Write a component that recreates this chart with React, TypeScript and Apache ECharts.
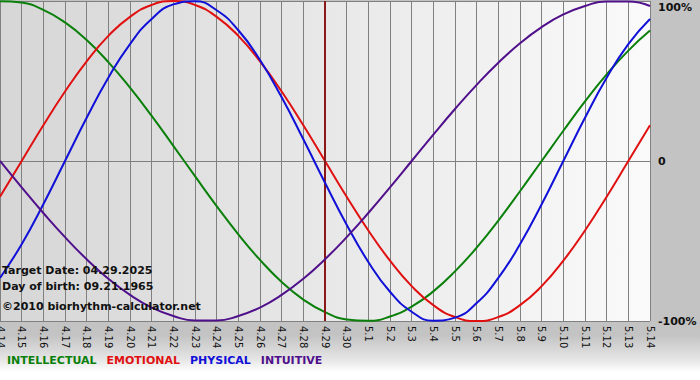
import React, { useEffect, useRef } from "react";
import * as echarts from "echarts";

const days = [
  "4.14", "4.15", "4.16", "4.17", "4.18", "4.19", "4.20", "4.21", "4.22", "4.23",
  "4.24", "4.25", "4.26", "4.27", "4.28", "4.29", "4.30", "5.1", "5.2", "5.3",
  "5.4", "5.5", "5.6", "5.7", "5.8", "5.9", "5.10", "5.11", "5.12", "5.13", "5.14",
];

const intellectual = [
  99.9, 99.0, 94.5, 86.6, 75.6, 61.8, 45.8, 28.2, 9.5, -9.5,
  -28.2, -45.8, -61.8, -75.6, -86.6, -94.5, -99.0, -99.9, -97.2, -91.0,
  -81.5, -69.0, -54.1, -37.2, -18.9, 0, 18.9, 37.2, 54.1, 69.0, 81.5,
];
const emotional = [
  -22.3, 0, 22.3, 43.4, 62.3, 78.2, 90.1, 97.5, 100, 97.5,
  90.1, 78.2, 62.3, 43.4, 22.3, 0, -22.3, -43.4, -62.3, -78.2,
  -90.1, -97.5, -100, -97.5, -90.1, -78.2, -62.3, -43.4, -22.3, 0, 22.3,
];
const physical = [
  -73.1, -52.0, -27.0, 0, 27.0, 52.0, 73.1, 88.8, 97.9, 99.8,
  94.2, 81.7, 63.1, 39.8, 13.6, -13.6, -39.8, -63.1, -81.7, -94.2,
  -99.8, -97.9, -88.8, -73.1, -52.0, -27.0, 0, 27.0, 52.0, 73.1, 88.8,
];
const intuitive = [
  0, -16.5, -32.5, -47.6, -61.4, -73.6, -83.7, -91.6, -96.9, -99.7,
  -99.7, -96.9, -91.6, -83.7, -73.6, -61.4, -47.6, -32.5, -16.5, 0,
  16.5, 32.5, 47.6, 61.4, 73.6, 83.7, 91.6, 96.9, 99.7, 99.7, 96.9,
];

const targetDay = "4.29";
const infoLines = [
  "Target Date: 04.29.2025",
  "Day of birth: 09.21.1965",
  "©2010 biorhythm-calculator.net",
];

const seriesNames = ["INTELLECTUAL", "EMOTIONAL", "PHYSICAL", "INTUITIVE"];
const seriesColors = ["#0a800a", "#e01010", "#1010d8", "#50108c"];

export default function App() {
  const ref = useRef<HTMLDivElement>(null);

  useEffect(() => {
    const chart = echarts.init(ref.current!, null, { renderer: "svg" });
    const font = "DejaVu Sans, Verdana, sans-serif";
    const dataSets = [intellectual, emotional, physical, intuitive];

    chart.setOption({
      animation: false,
      backgroundColor: "transparent",
      grid: {
        left: 0,
        right: 50,
        top: 1,
        bottom: 59,
        outerBoundsMode: "none",
        containLabel: false,
        show: true,
        borderWidth: 0,
        backgroundColor: new echarts.graphic.LinearGradient(0, 0, 1, 0, [
          { offset: 0, color: "#d6d6d6" },
          { offset: 1, color: "#fafafa" },
        ]),
      },
      legend: {
        left: 2,
        top: 355,
        padding: 0,
        icon: "none",
        itemWidth: 0,
        itemHeight: 10,
        itemGap: 5,
        selectedMode: false,
        textStyle: { fontFamily: font, fontSize: 11, fontWeight: "bold" },
        data: seriesNames.map((n, i) => ({
          name: n,
          textStyle: { color: seriesColors[i] },
        })),
      },
      xAxis: {
        type: "category",
        data: days,
        boundaryGap: false,
        axisLine: { show: true, lineStyle: { color: "#808080", width: 1 } },
        axisTick: {
          show: true,
          length: 4,
          interval: 0,
          lineStyle: { color: "#808080" },
        },
        splitLine: {
          show: true,
          interval: 0,
          lineStyle: { color: "#808080", width: 1 },
        },
        axisLabel: {
          interval: 0,
          rotate: -90,
          margin: 5,
          color: "#111",
          fontFamily: font,
          fontSize: 10,
        },
      },
      yAxis: {
        type: "value",
        position: "right",
        min: -100,
        max: 100,
        interval: 100,
        axisLine: { show: false },
        axisTick: { show: false },
        splitLine: { show: true, lineStyle: { color: "#808080", width: 1 } },
        axisLabel: {
          margin: 8,
          color: "#111",
          fontFamily: font,
          fontSize: 11,
          fontWeight: "bold",
          formatter: (v: number) =>
            v === 100 ? "{t|100%}" : v === 0 ? "0" : v + "%",
          rich: {
            t: {
              padding: [12, 0, 0, 0],
              fontFamily: font,
              fontSize: 11,
              fontWeight: "bold",
              color: "#111",
            },
          },
        },
      },
      graphic: infoLines.map((t, i) => ({
        type: "text",
        left: 2,
        top: [265, 281, 301][i],
        z: 100,
        style: {
          text: t,
          fill: "#111",
          font: "bold 11px DejaVu Sans, Verdana, sans-serif",
        },
      })),
      series: dataSets.map((d, i) => ({
        name: seriesNames[i],
        type: "line",
        data: d,
        smooth: true,
        showSymbol: false,
        symbol: "none",
        clip: false,
        color: seriesColors[i],
        lineStyle: { color: seriesColors[i], width: 2 },
        z: 3 + i,
        markLine:
          i === 0
            ? {
                silent: true,
                symbol: ["none", "none"],
                label: { show: false },
                lineStyle: { color: "#8a1818", width: 2, type: "solid" },
                data: [{ xAxis: targetDay }],
              }
            : undefined,
      })),
    });

    return () => chart.dispose();
  }, []);

  return (
    <div
      style={{
        position: "fixed",
        left: 0,
        top: 0,
        width: 700,
        height: 380,
        background:
          "linear-gradient(180deg, #c3c3c3 0px, #c3c3c3 335px, #e6e6e6 360px, #ffffff 372px, #ffffff 380px)",
      }}
    >
      <div ref={ref} style={{ width: 700, height: 380 }} />
    </div>
  );
}
